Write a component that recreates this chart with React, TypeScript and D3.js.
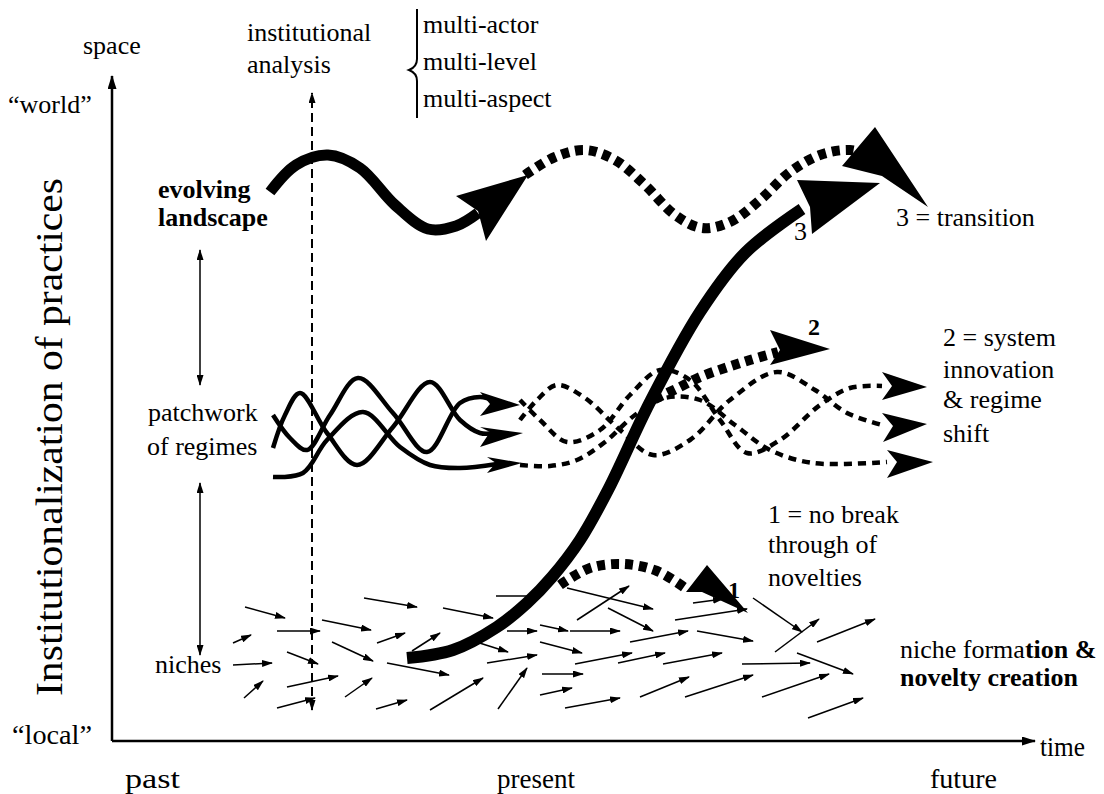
import React, { useEffect, useRef } from 'react';
import * as d3 from 'd3';

type P = [number, number];

// time runs 0..92 along the x axis, level 0..66 up the y axis
const landscapeSolid: P[] = [[15.8, 54.9], [18.4, 57.6], [21.6, 58.6], [24.8, 57.3], [28.3, 53.6], [31.6, 51.2], [34.4, 51.5], [36.6, 52.8]];
const landscapeHead: P[] = [[41.6, 56.6], [34.4, 54.5], [36.6, 53.0], [37.4, 50.0]];
const landscapeDotted: P[] = [[41.3, 56.6], [44.3, 58.4], [47.3, 59.1], [50.3, 58.1], [53.3, 55.6], [56.3, 52.6], [59.0, 51.3], [61.8, 51.9], [64.8, 54.1], [67.8, 56.9], [70.8, 58.6], [73.8, 59.1], [76.0, 58.5]];
const landscapeDottedHead: P[] = [[76.3, 61.4], [81.6, 53.4], [77.0, 56.5], [73.0, 57.5]];

const transitionLine: P[] = [[29.5, 8.3], [34.1, 9.1], [38.5, 11.4], [41.5, 13.8], [44.0, 16.4], [46.8, 20.1], [49.6, 25.1], [53.8, 33.9], [58.8, 42.9], [63.3, 48.8], [69.0, 53.2]];
const transitionHead: P[] = [[76.8, 55.8], [70.0, 50.7], [69.8, 53.4], [68.5, 56.1]];

const noBreak: P[] = [[44.8, 15.6], [47.8, 17.3], [51.1, 17.7], [54.5, 17.0], [57.6, 15.1]];
const noBreakHead: P[] = [[63.6, 12.8], [59.0, 14.9], [57.4, 14.9], [59.5, 17.6]];

const systemInno: P[] = [[54.3, 34.2], [56.8, 35.4], [58.8, 36.4], [61.3, 37.3], [63.8, 38.1], [66.6, 38.9]];
const systemInnoHead: P[] = [[71.8, 39.2], [65.8, 37.6], [66.8, 39.1], [65.8, 41.1]];

const regimesSolid: P[][] = [
  [[16.1, 32.6], [17.8, 30.3], [19.5, 29.1], [21.8, 32.6], [24.6, 36.3], [28.1, 32.8], [31.5, 28.9], [34.8, 33.8], [36.8, 34.4], [38.3, 34.0]],
  [[16.1, 29.3], [17.3, 32.6], [18.8, 34.8], [21.5, 30.8], [24.5, 27.6], [28.1, 31.4], [31.8, 35.9], [34.8, 32.1], [36.8, 30.8], [38.3, 30.8]],
  [[16.1, 26.4], [19.1, 26.8], [21.5, 30.1], [25.1, 32.9], [28.8, 29.4], [31.8, 27.6], [34.8, 27.3], [38.5, 27.7]]
];
const regimesSolidHeads: P[][] = [
  [[40.8, 33.6], [36.8, 32.5], [37.8, 33.7], [36.8, 34.9]],
  [[41.1, 30.8], [36.8, 29.4], [37.8, 30.9], [36.8, 31.4]],
  [[41.0, 27.8], [37.5, 26.8], [38.4, 27.8], [37.5, 28.4]]
];
const regimesDotted: P[][] = [
  [[40.8, 34.1], [42.8, 32.1], [45.5, 29.9], [48.8, 31.1], [51.8, 34.6], [54.8, 37.1], [57.8, 36.1], [60.8, 32.1], [63.5, 28.8], [66.8, 30.1], [70.8, 33.6], [73.8, 35.3], [77.0, 35.5]],
  [[40.8, 32.1], [42.5, 34.1], [44.5, 35.6], [47.3, 34.3], [50.8, 31.1], [54.1, 28.6], [57.8, 30.1], [61.8, 34.1], [66.5, 36.9], [70.3, 35.1], [73.5, 32.8], [77.0, 31.6]],
  [[40.8, 27.6], [43.8, 27.5], [46.5, 28.1], [49.3, 29.9], [52.3, 32.6], [55.3, 34.3], [58.8, 34.1], [62.3, 31.6], [65.8, 29.1], [70.1, 27.8], [77.5, 27.9]]
];
const regimesDottedHeads: P[][] = [
  [[81.5, 35.4], [77.0, 34.1], [78.0, 35.5], [77.0, 36.9]],
  [[81.5, 31.7], [77.1, 29.9], [78.1, 31.5], [77.0, 32.8]],
  [[82.1, 27.9], [77.5, 26.3], [78.5, 27.9], [77.5, 29.1]]
];

const nicheArrows: [P, P][] = [
  [[13.3, 13.4], [17.3, 12.3]], [[16.5, 11.0], [20.8, 11.0]], [[12.1, 9.8], [13.9, 10.6]], [[12.1, 7.6], [16.0, 7.8]],
  [[17.5, 8.9], [20.6, 7.7]], [[13.2, 4.3], [15.1, 6.0]], [[17.5, 5.4], [22.6, 6.5]], [[16.5, 3.3], [20.3, 4.3]],
  [[21.0, 12.1], [25.9, 11.1]], [[25.2, 14.3], [30.5, 13.4]], [[22.0, 9.9], [26.1, 8.0]], [[26.5, 9.8], [29.3, 10.8]],
  [[23.3, 4.4], [26.0, 6.3]], [[26.4, 3.2], [29.5, 4.1]], [[30.0, 9.0], [32.8, 10.8]], [[27.5, 7.8], [33.7, 6.6]],
  [[33.1, 13.3], [38.1, 12.3]], [[31.8, 3.1], [37.1, 6.3]], [[38.4, 14.5], [42.8, 14.5]], [[37.5, 7.8], [42.5, 8.6]],
  [[38.6, 3.2], [41.5, 7.3]], [[35.8, 10.1], [39.6, 8.9]], [[39.5, 11.0], [42.5, 11.0]],
  [[45.5, 15.3], [54.1, 13.2]], [[46.5, 12.1], [51.7, 15.5]], [[49.6, 13.3], [54.1, 11.0]], [[42.8, 11.6], [45.6, 11.0]],
  [[45.8, 11.0], [50.8, 11.0]], [[42.8, 9.9], [47.0, 8.8]], [[46.3, 7.7], [52.0, 8.8]], [[50.6, 7.8], [55.3, 8.8]],
  [[51.8, 9.9], [57.6, 11.0]], [[56.3, 12.1], [63.5, 13.2]], [[58.5, 11.0], [64.1, 10.0]], [[55.1, 7.7], [61.0, 8.8]],
  [[43.0, 6.7], [47.1, 6.7]], [[42.8, 4.6], [46.0, 5.3]], [[45.3, 3.3], [50.8, 4.3]], [[52.8, 4.4], [57.7, 6.4]],
  [[57.3, 4.4], [64.1, 6.6]], [[63.0, 7.7], [69.8, 7.8]], [[65.0, 4.4], [71.7, 6.7]], [[68.5, 8.8], [74.1, 6.7]],
  [[66.3, 8.9], [70.7, 12.2]], [[64.1, 14.3], [69.0, 10.9]], [[70.5, 9.9], [76.3, 12.2]], [[69.6, 2.3], [75.1, 4.3]],
  [[58.1, 13.8], [61.1, 14.2]]
];

const levelArrows: [P, P][] = [[[8.8, 49.1], [8.8, 35.6]], [[8.8, 25.8], [8.8, 8.6]]];
const institutionalLine: [P, P] = [[20.0, 3.1], [20.0, 64.8]];

// [time, level, text, size, weight]
const labels: [number, number, string, number, string][] = [
  [-2.9, 68.7, 'space', 26, 'normal'],
  [-10.4, 62.8, '\u201cworld\u201d', 26, 'normal'],
  [13.5, 70.0, 'institutional', 26, 'normal'],
  [13.5, 66.8, 'analysis', 26, 'normal'],
  [31.1, 70.8, 'multi-actor', 26, 'normal'],
  [31.1, 67.1, 'multi-level', 26, 'normal'],
  [31.1, 63.4, 'multi-aspect', 26, 'normal'],
  [4.6, 54.3, 'evolving', 26, 'bold'],
  [4.6, 51.5, 'landscape', 26, 'bold'],
  [3.6, 32.0, 'patchwork', 26, 'normal'],
  [3.5, 28.6, 'of regimes', 26, 'normal'],
  [4.3, 6.8, 'niches', 26, 'normal'],
  [78.4, 51.5, '3 = transition', 26, 'normal'],
  [68.2, 50.1, '3', 26, 'normal'],
  [69.6, 40.6, '2', 24, 'bold'],
  [61.6, 14.3, '1', 24, 'bold'],
  [83.1, 39.5, '2 = system', 26, 'normal'],
  [83.1, 36.3, 'innovation', 26, 'normal'],
  [83.1, 33.3, '& regime', 26, 'normal'],
  [83.1, 29.9, 'shift', 26, 'normal'],
  [65.6, 21.8, '1 = no break', 26, 'normal'],
  [65.6, 18.8, 'through of', 26, 'normal'],
  [65.6, 15.5, 'novelties', 26, 'normal'],
  [78.8, 5.5, 'novelty creation', 26, 'bold']
];
// condensed labels: [time, level, text, width in px]
const axisLabels: [number, number, string, number][] = [
  [-10.0, -0.3, '\u201clocal\u201d', 80],
  [92.8, -1.5, 'time', 45],
  [1.3, -4.7, 'past', 55],
  [38.5, -4.7, 'present', 78],
  [81.8, -4.7, 'future', 67]
];

const FONT = 'Liberation Serif, DejaVu Serif, serif';

export default function App() {
  const ref = useRef<SVGSVGElement>(null);

  useEffect(() => {
    const svg = d3.select(ref.current);
    svg.selectAll('*').remove();

    const x = d3.scaleLinear().domain([0, 92]).range([112, 1032]);
    const y = d3.scaleLinear().domain([0, 66]).range([741, 81]);
    const smooth = d3.line<P>().x(d => x(d[0])).y(d => y(d[1])).curve(d3.curveCatmullRom.alpha(0.5));
    const straight = d3.line<P>().x(d => x(d[0])).y(d => y(d[1]));
    const poly = d3.line<P>().x(d => x(d[0])).y(d => y(d[1])).curve(d3.curveLinearClosed);

    const defs = svg.append('defs');
    const marker = (id: string, w: number, h: number) =>
      defs.append('marker')
        .attr('id', id)
        .attr('viewBox', `0 0 ${w} ${h}`)
        .attr('refX', w - 1)
        .attr('refY', h / 2)
        .attr('markerWidth', w)
        .attr('markerHeight', h)
        .attr('markerUnits', 'userSpaceOnUse')
        .attr('orient', 'auto-start-reverse')
        .append('path')
        .attr('d', `M0,0 L${w},${h / 2} L0,${h} z`)
        .attr('fill', '#000');
    marker('tip', 11, 7);
    marker('axisTip', 14, 9);

    // niches
    svg.append('g').selectAll('path').data(nicheArrows).join('path')
      .attr('d', d => straight(d))
      .attr('stroke', '#000').attr('stroke-width', 1.5).attr('fill', 'none')
      .attr('marker-end', 'url(#tip)');

    // axes
    svg.append('path').attr('d', straight([[0, 0], [0, 66.5]]))
      .attr('stroke', '#000').attr('stroke-width', 2.5).attr('marker-end', 'url(#axisTip)');
    svg.append('path').attr('d', straight([[0, 0], [92.3, 0]]))
      .attr('stroke', '#000').attr('stroke-width', 2.5).attr('marker-end', 'url(#axisTip)');

    svg.append('g').selectAll('path').data(levelArrows).join('path')
      .attr('d', d => straight(d))
      .attr('stroke', '#000').attr('stroke-width', 1.5)
      .attr('marker-start', 'url(#tip)').attr('marker-end', 'url(#tip)');

    svg.append('path').attr('d', straight(institutionalLine))
      .attr('stroke', '#000').attr('stroke-width', 2).attr('stroke-dasharray', '9 5')
      .attr('marker-start', 'url(#tip)').attr('marker-end', 'url(#tip)');

    // brace
    const bx = x(30.5);
    svg.append('path')
      .attr('d', `M${bx},${y(73.2)} L${bx},${y(68.2)} Q${bx},${y(67.4)} ${bx - 8},${y(67.1)} Q${bx},${y(66.8)} ${bx},${y(66.0)} L${bx},${y(62.3)}`)
      .attr('stroke', '#000').attr('stroke-width', 2).attr('fill', 'none');

    // regimes
    svg.append('g').selectAll('path').data(regimesDotted).join('path')
      .attr('d', d => smooth(d))
      .attr('stroke', '#000').attr('stroke-width', 4.5).attr('fill', 'none').attr('stroke-dasharray', '8 6');
    svg.append('g').selectAll('path').data(regimesSolid).join('path')
      .attr('d', d => smooth(d))
      .attr('stroke', '#000').attr('stroke-width', 4.5).attr('fill', 'none');

    const heads = [...regimesSolidHeads, ...regimesDottedHeads, landscapeHead, landscapeDottedHead, transitionHead, noBreakHead, systemInnoHead];

    // thick dotted arrows
    svg.append('g').selectAll('path').data([landscapeDotted, noBreak, systemInno]).join('path')
      .attr('d', d => smooth(d))
      .attr('stroke', '#000').attr('stroke-width', 10).attr('fill', 'none').attr('stroke-dasharray', '8 6');

    svg.append('path').attr('d', smooth(landscapeSolid))
      .attr('stroke', '#000').attr('stroke-width', 11).attr('fill', 'none');
    svg.append('path').attr('d', smooth(transitionLine))
      .attr('stroke', '#000').attr('stroke-width', 12).attr('fill', 'none');

    svg.append('g').selectAll('path').data(heads).join('path')
      .attr('d', d => poly(d))
      .attr('fill', '#000');

    // text
    svg.append('g').selectAll('text').data(labels).join('text')
      .attr('x', d => x(d[0])).attr('y', d => y(d[1]))
      .style('font-family', FONT).attr('font-size', d => d[3]).attr('font-weight', d => d[4])
      .text(d => d[2]);

    svg.append('g').selectAll('text').data(axisLabels).join('text')
      .attr('x', d => x(d[0])).attr('y', d => y(d[1]))
      .style('font-family', FONT).attr('font-size', 27)
      .attr('textLength', d => d[3]).attr('lengthAdjust', 'spacingAndGlyphs')
      .text(d => d[2]);

    const nf = svg.append('text').attr('x', x(78.8)).attr('y', y(8.3))
      .style('font-family', FONT).attr('font-size', 26);
    nf.append('tspan').text('niche forma');
    nf.append('tspan').attr('font-weight', 'bold').text('tion &');

    svg.append('text')
      .attr('transform', `translate(${x(-5.0)},${y(30.4)}) rotate(-90)`)
      .attr('text-anchor', 'middle')
      .style('font-family', FONT).attr('font-size', 38)
      .attr('textLength', 518).attr('lengthAdjust', 'spacingAndGlyphs')
      .text('Institutionalization of practices');
  }, []);

  return (
    <svg
      ref={ref}
      width={1104}
      height={794}
      style={{ position: 'absolute', left: 0, top: 0, background: '#fff' }}
    />
  );
}
